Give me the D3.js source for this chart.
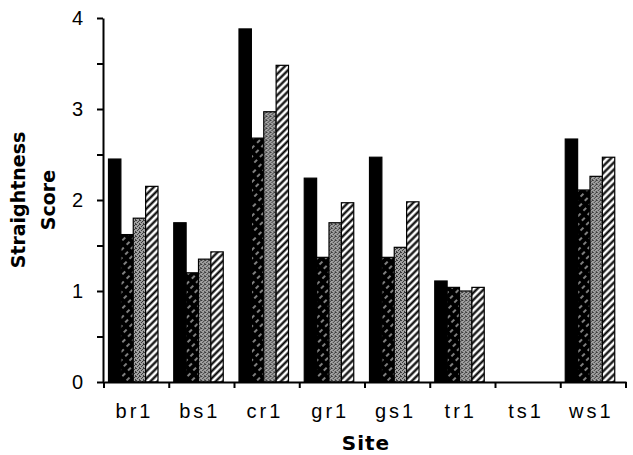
<!DOCTYPE html>
<html>
<head>
<meta charset="utf-8">
<script src="https://cdn.jsdelivr.net/npm/d3@7"></script>
<style>
  body { margin: 0; background: #fff; }
  svg { display: block; }
</style>
</head>
<body>
<div id="chart"></div>
<script>
// DATA
const sites = ["br1", "bs1", "cr1", "gr1", "gs1", "tr1", "ts1", "ws1"];
const seriesNames = ["solid", "darkHatch", "stipple", "lightHatch"];
const solidVals = [2.45, 1.75, 3.88, 2.24, 2.47, 1.11, 0, 2.67];
const darkHatchVals = [1.62, 1.20, 2.68, 1.37, 1.37, 1.04, 0, 2.11];
const stippleVals = [1.80, 1.35, 2.97, 1.75, 1.48, 1.00, 0, 2.26];
const lightHatchVals = [2.15, 1.43, 3.48, 1.97, 1.98, 1.04, 0, 2.47];
const yTicks = [0, 0.5, 1, 1.5, 2, 2.5, 3, 3.5, 4];

const seriesVals = [solidVals, darkHatchVals, stippleVals, lightHatchVals];

function render() {
    const W = 633, H = 455;
    const svg = d3.select('#chart').append('svg')
        .attr('width', W)
        .attr('height', H);

    // patterns
    const defs = svg.append('defs');

    const dark = defs.append('pattern')
        .attr('id', 'darkHatch')
        .attr('patternUnits', 'userSpaceOnUse')
        .attr('width', 6).attr('height', 8)
        .attr('patternTransform', 'rotate(45)');
    dark.append('rect').attr('width', 6).attr('height', 8).attr('fill', '#000');
    dark.append('line')
        .attr('x1', 3).attr('y1', 1).attr('x2', 3).attr('y2', 5)
        .attr('stroke', '#fff').attr('stroke-width', 1);

    const light = defs.append('pattern')
        .attr('id', 'lightHatch')
        .attr('patternUnits', 'userSpaceOnUse')
        .attr('width', 5).attr('height', 5)
        .attr('patternTransform', 'rotate(45)');
    light.append('rect').attr('width', 5).attr('height', 5).attr('fill', '#fff');
    light.append('line')
        .attr('x1', 2.5).attr('y1', 0).attr('x2', 2.5).attr('y2', 5)
        .attr('stroke', '#000').attr('stroke-width', 2.2);

    const stip = defs.append('pattern')
        .attr('id', 'stipple')
        .attr('patternUnits', 'userSpaceOnUse')
        .attr('width', 4).attr('height', 4);
    stip.append('rect').attr('width', 4).attr('height', 4).attr('fill', '#a0a0a0');
    [[0, 0], [2, 1], [1, 2], [3, 3], [3, 0]].forEach(function (p) {
        stip.append('rect').attr('x', p[0]).attr('y', p[1])
            .attr('width', 1).attr('height', 1).attr('fill', '#3a3a3a');
    });

    const fills = {
        solid: '#000',
        darkHatch: 'url(#darkHatch)',
        stipple: 'url(#stipple)',
        lightHatch: 'url(#lightHatch)'
    };

    // scales
    const x = d3.scaleBand().domain(sites).range([104, 626]).padding(0);
    const xs = d3.scaleBand().domain(seriesNames).range([4.5, 54]).padding(0);
    const y = d3.scaleLinear().domain([0, 4]).range([382, 18]);

    // bars
    const groups = svg.append('g').selectAll('g.site')
        .data(sites)
        .enter().append('g')
        .attr('class', 'site')
        .attr('transform', function (d) { return `translate(${x(d)},0)`; });

    groups.selectAll('rect')
        .data(function (d, i) {
            return seriesNames.map(function (s, j) { return { s: s, v: seriesVals[j][i] }; });
        })
        .enter().append('rect')
        .filter(function (d) { return d.v > 0; })
        .attr('x', function (d) { return xs(d.s); })
        .attr('y', function (d) { return y(d.v); })
        .attr('width', xs.bandwidth())
        .attr('height', function (d) { return y(0) - y(d.v); })
        .attr('fill', function (d) { return fills[d.s]; })
        .attr('stroke', '#000')
        .attr('stroke-width', 1.2);

    // y axis
    const yAxis = d3.axisLeft(y)
        .tickValues(yTicks)
        .tickSize(6)
        .tickSizeOuter(0)
        .tickPadding(14)
        .tickFormat(function (d) { return Number.isInteger(d) ? d : ''; });
    const gy = svg.append('g')
        .attr('transform', 'translate(103,0)')
        .call(yAxis);
    gy.select('.domain').attr('stroke-width', 2);
    gy.selectAll('.tick line').attr('stroke-width', 2);
    gy.selectAll('.tick text')
        .style('font-family', '"Liberation Sans", Arial, sans-serif')
        .style('font-size', '20px')
        .attr('fill', '#000');

    // x axis
    const xAxis = d3.axisBottom(x)
        .tickSize(0)
        .tickFormat('');
    const gx = svg.append('g')
        .attr('transform', 'translate(0,382)')
        .call(xAxis);
    gx.select('.domain').attr('stroke-width', 2);
    gx.selectAll('.tick').remove();

    const bounds = sites.map(function (d) { return x(d); }).concat([x.range()[1]]);
    gx.selectAll('line.sep')
        .data(bounds)
        .enter().append('line')
        .attr('class', 'sep')
        .attr('x1', function (d) { return d; })
        .attr('x2', function (d) { return d; })
        .attr('y1', 0).attr('y2', 6)
        .attr('stroke', '#000').attr('stroke-width', 2);

    svg.append('g').selectAll('text')
        .data(sites)
        .enter().append('text')
        .attr('x', function (d) { return x(d) + 29 + 1.5; })
        .attr('y', 418)
        .attr('text-anchor', 'middle')
        .style('font-family', '"Liberation Sans", Arial, sans-serif')
        .style('font-size', '20px')
        .style('letter-spacing', '3px')
        .text(function (d) { return d; });

    // titles
    svg.append('text')
        .attr('x', 366)
        .attr('y', 450)
        .attr('text-anchor', 'middle')
        .style('font-family', '"DejaVu Sans", sans-serif')
        .style('font-weight', 'bold')
        .style('font-size', '20px')
        .style('letter-spacing', '1px')
        .text('Site');

    const yt = svg.append('text')
        .attr('transform', 'translate(0,200) rotate(-90)')
        .attr('text-anchor', 'middle')
        .style('font-family', '"DejaVu Sans", sans-serif')
        .style('font-weight', 'bold')
        .style('font-size', '19px');
    yt.append('tspan').attr('x', 0).attr('y', 25).text('Straightness');
    yt.append('tspan').attr('x', 0).attr('y', 55).text('Score');
}

window.onload = render;
</script>
</body>
</html>
